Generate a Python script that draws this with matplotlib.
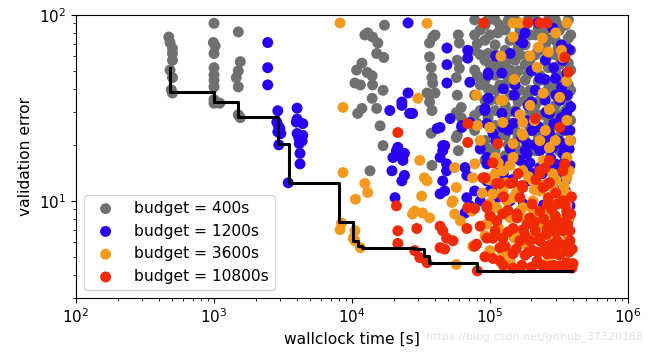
import matplotlib
matplotlib.use("Agg")
import matplotlib.pyplot as plt

# budget = 400s (grey)
gray_t = [470, 480, 500, 500, 500, 480, 500, 490, 500,
          1000, 990, 1020, 1000, 1000, 1000, 1000, 1000, 1000, 1000, 1100,
          1500, 1550, 1500, 1450, 1500, 1500, 1550,
          17200, 13000, 12400, 14100, 15400, 15100, 17000, 11800, 10800, 12900, 14000,
          10500, 11500, 14100, 16800, 14000, 11800, 11000, 15100, 16000, 16800, 13500,
          36500, 38500, 40000, 36500, 37500, 38000, 38500, 35000, 36500, 38000, 40000, 37500, 38000,
          59000, 60000, 58000, 60000, 57000, 58000, 62000, 57000, 62000, 58000, 59000, 57000,
          77500, 77500, 77500, 77500, 77500, 77500, 77500,
          92000, 92000, 92000, 92000, 92000, 92000, 92000,
          109000, 109000, 109000, 109000, 109000, 109000, 109000, 109000,
          129000, 129000, 129000, 129000, 129000, 129000, 129000, 129000,
          152000, 152000, 152000, 152000, 152000, 152000, 152000, 152000,
          180000, 180000, 180000, 180000, 180000, 180000, 180000, 180000,
          213000, 213000, 213000, 213000, 213000, 213000, 213000, 213000,
          252000, 252000, 252000, 252000, 252000, 252000, 252000, 252000,
          298000, 298000, 298000, 298000, 298000, 298000, 298000, 298000,
          353000, 353000, 353000, 353000, 353000, 353000, 353000, 353000,
          385000, 385000, 385000, 385000, 385000, 385000,
          85000, 85000, 85000, 85000,
          100000, 100000, 100000, 100000,
          118000, 118000, 118000, 118000,
          140000, 140000, 140000, 140000,
          165000, 165000, 165000, 165000, 165000,
          195000, 195000, 195000, 195000, 195000,
          230000, 230000, 230000, 230000, 230000,
          270000, 270000, 270000, 270000, 270000,
          320000, 320000, 320000, 320000, 320000, 320000,
          81000, 81000, 81000,
          97000, 97000, 97000, 97000, 97000,
          114000, 114000, 114000, 114000,
          136000, 136000, 136000, 136000, 136000,
          160000, 160000, 160000, 160000, 160000,
          189000, 189000, 189000, 189000, 189000, 189000,
          224000, 224000, 224000, 224000, 224000,
          265000, 265000, 265000, 265000, 265000, 265000,
          312000, 312000, 312000, 312000, 312000, 312000,
          370000, 370000, 370000, 370000, 370000, 370000, 370000]
gray_e = [76, 71, 66, 62, 57, 50.5, 46, 39.5, 38,
          90, 71, 68, 62, 52, 47.5, 44.5, 41, 35, 33.5, 33.5,
          81, 56, 50, 46, 41, 29, 28,
          88, 80, 78, 76, 70.6, 62, 59, 55, 50.5, 49, 47,
          43, 42, 42, 39.3, 35.6, 31.4, 29.5, 31.4, 25.3, 19.8, 14.5,
          70.6, 76, 78, 59.5, 52, 46, 42.9, 38, 34, 30.6, 38, 23.1, 15.5,
          78, 70.6, 57, 51.6, 46, 37, 31.8, 29.8, 28, 22.5, 18.6, 21.9,
          94, 78, 64.5, 50.5, 37, 28.8, 23.9,
          88, 73, 57, 44.5, 34.7, 21.1, 16.5,
          94, 69, 61, 47.4, 39.3, 30.6, 25.4, 18.6,
          83, 64.5, 54, 42, 32.6, 27.1, 22.5, 17.5,
          94, 73, 57, 47.4, 37, 30.6, 23.9, 19.8,
          88, 69, 54, 44.5, 34.7, 27.1, 21.1, 15.5,
          94, 78, 61, 50.5, 39.3, 32.6, 25.4, 18.6,
          83, 69, 57, 44.5, 37, 28.8, 22.5, 16.5,
          94, 73, 61, 50.5, 42, 32.6, 27.1, 19.8,
          88, 69, 57, 47.4, 37, 30.6, 23.9, 17.5,
          78, 64.5, 50.5, 39.3, 27.1, 21.1,
          83, 61, 42, 30.6,
          78, 54, 34.7, 25.4,
          88, 57, 42, 22.5,
          73, 50.5, 37, 25.4,
          83, 61, 39.3, 28.8, 18.6,
          78, 57, 39.3, 30.6, 23.9,
          88, 64.5, 47.4, 34.7, 21.1,
          94, 61, 42, 30.6, 23.9,
          83, 54, 44.5, 34.7, 25.4, 18.6,
          70, 47, 26,
          94, 62, 40, 28, 19,
          80, 52, 35, 22,
          94, 58, 45, 30, 20,
          66, 50, 34, 22, 17,
          94, 60, 48, 37, 26, 19,
          84, 66, 44, 29, 22,
          94, 74, 52, 40, 26, 19,
          88, 67, 47, 38, 29, 22,
          94, 75, 55, 42, 33, 24, 19]

# budget = 1200s (blue)
blue_t = [2450, 2450, 2450, 2900, 2850, 2950, 2900, 2950, 3000, 3050,
          4000, 4000, 3950, 4000, 4100, 4200, 4150, 4200, 4200, 4400, 4400, 4350, 3450,
          25500, 48800, 69000, 69000, 48800, 48800, 71500, 25500, 23000, 18800, 26200, 23000,
          43500, 51500, 62500, 21500, 45500, 22000, 23400, 19500, 24000, 23000, 20500, 21000,
          24000, 19800, 45500, 43500, 48500, 45500, 43500, 48500, 41500, 62500, 71500, 47000,
          66000, 68000, 68000, 71500, 66000, 95000, 103000, 97000, 97000, 92000, 47000, 27500,
          173000, 165000, 285000, 224000, 330000, 337000, 298000, 230000, 361000, 330000,
          252000, 270000, 361000, 189000, 147000, 122000, 124000, 202000, 270000, 240000,
          312000, 349000, 140000, 180000, 122000, 186000, 270000, 298000, 338000, 140000,
          205000, 230000, 165000, 105000, 147000, 186000, 230000, 285000, 338000, 95000,
          118000, 95000, 100000, 112000, 133000, 186000, 260000, 338000, 285000, 307000,
          97000, 97000, 92000, 252000, 152000, 320000, 213000, 380000, 380000, 165000,
          129000, 252000, 195000, 353000, 380000, 85000, 77500, 152000, 230000,
          110000, 125000, 135000, 145000, 155000, 160000, 170000, 175000, 185000, 195000,
          200000, 210000, 215000, 225000, 240000, 245000, 255000, 260000, 275000, 280000,
          290000, 300000, 305000, 315000, 330000, 345000, 355000, 365000, 375000, 385000,
          250000, 200000, 150000, 125000, 110000, 140000, 290000, 375000, 180000, 95000, 85000]
blue_e = [71, 52, 42, 30.5, 26.5, 25, 23.5, 20, 24.5, 23,
          31.5, 27.5, 26.5, 23, 22, 21, 20.3, 18, 15.8, 26, 22.5, 21, 12.5,
          90.5, 66.3, 64.5, 58.5, 54, 43, 43.4, 38, 34, 30.6, 29.5, 32.6,
          24.8, 27.7, 24.8, 19.4, 19.8, 17.5, 16.5, 14.5, 13.7, 12.8, 10.4, 18.6,
          18, 17.1, 18.6, 17.1, 15.8, 12.8, 10.9, 14.5, 24.5, 25.4, 26.4, 19.8,
          15.1, 13.7, 10.4, 9.4, 8.6, 17.1, 11.3, 47.4, 35.6, 31.4, 11.3, 29.5,
          70.6, 73, 85, 90.5, 69, 57, 45.6, 45.6, 48.6, 40.8,
          34.7, 29.5, 29.9, 32.6, 26.1, 29.5, 24.8, 23.9, 23, 20.6,
          20.3, 18.6, 19.1, 18.6, 48.6, 17.9, 14.9, 15.8, 17.9, 10,
          14, 15.1, 16.5, 23, 20.3, 20.3, 18.6, 19.3, 20.3, 15.8,
          15.1, 12.8, 11.3, 10.4, 10.2, 14.5, 15.1, 15.8, 12.4, 11.3,
          48.6, 35.6, 30.6, 57, 42, 34.7, 39.3, 23.9, 15.5, 27.1,
          16.5, 12.1, 12.8, 11.3, 9.4, 10, 11.3, 8.3, 8.8,
          21, 14, 24, 13, 30, 11, 22, 9.6, 27, 16,
          34, 20, 11.5, 25, 14, 9.5, 30, 22, 17, 12,
          26, 37, 14, 21, 28, 24, 13, 37, 19, 32,
          45, 50, 37, 40, 60, 62, 52, 65, 80, 26, 19]

# budget = 3600s (orange)
orange_t = [8200, 8600, 35000, 30000, 80000, 120000, 81000, 100000,
            8600, 12400, 13000, 10600, 8400, 10500, 10500, 11500, 8200, 10200,
            31000, 28500, 32500, 36500, 27500, 32000, 35000, 33500,
            55500, 57000, 54000, 55500, 61000, 57000,
            53000, 74000, 77500, 75000, 109000, 105000, 103000, 75000, 109000,
            147000, 165000, 361000, 147000, 224000, 265000, 330000, 338000, 220000,
            124000, 243000, 195000, 124000, 173000, 361000, 252000, 171000, 147000,
            270000, 230000, 100000, 173000,
            147000, 243000, 361000, 124000, 173000, 361000, 220000, 285000, 361000,
            133000, 205000, 173000, 260000, 361000, 140000, 205000, 320000,
            124000, 165000, 270000, 361000, 133000, 195000, 285000, 380000, 140000, 260000,
            124000, 147000, 165000, 202000, 260000, 361000, 338000, 230000, 205000, 285000,
            124000, 180000, 112000, 85000, 92000, 100000, 298000, 380000,
            88000, 98000, 115000, 130000, 140000, 155000, 190000, 210000, 250000, 275000,
            300000, 330000, 345000, 375000, 150000, 175000, 210000, 240000, 290000, 330000,
            375000, 115000, 100000, 165000, 210000, 270000, 320000, 150000, 300000, 240000,
            195000, 120000, 360000, 95000]
orange_e = [90.5, 31.8, 90, 35.6, 37, 34.7, 25.4, 24.8,
            14.2, 12.4, 11.1, 10.2, 7.6, 6.9, 6.1, 5.6, 7.0, 6.3,
            16.5, 8.8, 8.6, 8.1, 8.5, 10.6, 12.8, 13.3,
            15.1, 11.8, 10, 8.5, 7.8, 4.55,
            9.8, 8.8, 15.8, 13.3, 14.0, 10.9, 8.1, 5.7, 17.1,
            90.5, 90.5, 90.5, 76, 67, 63.1, 64.5, 59, 52.3,
            34.7, 37.9, 32.6, 26.4, 26.4, 27.1, 23.9, 23, 20.3,
            19.3, 21.1, 24.8, 22.5,
            17.1, 16.5, 17.1, 14.5, 14.5, 13.3, 12.4, 11.8, 10.9,
            10, 10, 9.2, 8.8, 9.2, 8.1, 8.1, 7.8,
            6.6, 6.9, 6.6, 6.6, 5.4, 5.6, 5.4, 5.6, 4.75, 4.65,
            11.3, 10.4, 8.8, 9.2, 8.5, 9.6, 11.3, 11.3, 12.8, 14,
            5.2, 8.0, 9.2, 21.1, 6.5, 5.4, 21.1, 21.1,
            11, 13, 16, 12.5, 15.5, 11, 13.5, 11.5, 12.2, 9.8,
            13, 10.2, 12, 14.5, 6.3, 5.9, 6.3, 7.4, 6.1, 7.4,
            8, 7.2, 9.7, 29, 27, 31, 36, 45, 80, 75,
            60, 60, 44, 7.5]

# budget = 10800s (red)
red_t = [90000, 189000, 230000, 260000, 349000, 370000,
         21500, 69000, 69000, 114000, 213000, 320000,
         21000, 21500, 21500, 28500, 29500, 31000, 35000,
         43500, 45500, 48500, 43500, 54000, 47000, 68000, 69000, 77500, 95000,
         112000, 95000, 80000, 105000, 118000, 92000, 81000,
         89000, 112000, 140000, 171000, 165000, 202000, 243000, 265000, 230000, 349000,
         338000, 361000, 380000, 400000, 361000, 260000, 195000, 147000, 147000, 230000,
         285000, 186000, 147000, 157000, 260000, 307000, 220000,
         118000, 147000, 173000, 124000, 157000, 195000, 230000, 307000, 361000, 260000,
         338000, 124000, 165000, 230000, 205000, 285000, 361000, 220000, 393000, 338000,
         270000, 230000, 265000, 92000, 95000,
         320000, 252000, 180000, 129000, 109000, 100000, 85000, 77500, 380000, 298000,
         213000, 180000, 320000, 270000, 118000,
         105000, 125000, 135000, 155000, 170000, 175000, 190000, 200000, 210000, 225000,
         240000, 245000, 255000, 275000, 280000, 290000, 300000, 310000, 330000, 340000,
         350000, 365000, 375000, 385000, 395000, 390000, 300000, 250000, 215000, 160000,
         125000, 105000, 135000, 350000, 270000]
red_e = [90.5, 90.5, 90.5, 90.5, 59, 49.2,
         23.3, 26, 20.6, 20.3, 27.7, 24.8,
         9.4, 6.9, 5.9, 5.4, 7.1, 4.95, 4.65,
         7.3, 6.9, 6.3, 5.6, 6.1, 5.5, 7.1, 9.2, 9.1, 9.2,
         7.8, 6.3, 5.85, 6.3, 5.6, 5.0, 4.2,
         13.3, 12.4, 12.4, 12.1, 10.4, 9.6, 11.8, 12.4, 14.5, 15.8,
         10, 8.8, 6.9, 4.6, 4.65, 5.2, 6.1, 5.2, 4.35, 6.3,
         7.5, 7.5, 7.1, 8.5, 9.6, 6.1, 4.75,
         12.4, 12.5, 11.8, 8.5, 8.1, 8.1, 8.8, 9.6, 8.5, 7.1,
         6.9, 6.3, 6.1, 6.1, 5.4, 5.2, 5.4, 4.6, 4.35, 14.5,
         16.5, 14, 10.4, 13.3, 9.4,
         5.1, 5.7, 5.1, 5.7, 6.9, 8.3, 7.3, 5.7, 6.1, 8.3,
         6.9, 6.5, 4.45, 4.45, 4.75,
         4.9, 4.5, 6.8, 5.5, 4.5, 7, 5.3, 4.4, 7.7, 5.3,
         4.5, 8, 6.6, 5.8, 9, 4.5, 6.8, 5.8, 7.6, 5.8,
         4.5, 7.5, 5.3, 8.5, 5.5, 10.5, 11, 15, 13, 14,
         10.5, 16, 8.9, 9.5, 12.5]

# incumbent trajectory
inc_t = [480, 480, 1000, 1500, 2900, 3500, 8100, 10200, 11000, 11800, 28500, 33000, 36000, 81000, 392000]
inc_e = [51.7, 38.4, 33.8, 28.1, 20.1, 12.5, 7.7, 6.1, 5.75, 5.6, 5.5, 5.05, 4.62, 4.19, 4.19]

labels = ["budget = 400s", "budget = 1200s", "budget = 3600s", "budget = 10800s"]
colors = ["#707070", "#2a00f0", "#f39a1e", "#ef2a05"]

fig = plt.figure(figsize=(6.5, 3.54), dpi=100)
ax = fig.add_axes([0.117, 0.158, 0.849, 0.8])

for t, e, c, lab in zip([gray_t, blue_t, orange_t, red_t], [gray_e, blue_e, orange_e, red_e], colors, labels):
    ax.scatter(t, e, s=62, color=c, edgecolors="none", label=lab)

ax.plot(inc_t, inc_e, color="black", linewidth=2.2, drawstyle="steps-post", zorder=5)

ax.set_xscale("log")
ax.set_yscale("log")
ax.set_xlim(1e2, 1e6)
ax.set_ylim(3, 100)
ax.set_xlabel("wallclock time [s]", fontsize=11.2)
ax.set_ylabel("validation error", fontsize=11.2)
ax.tick_params(labelsize=11)
ax.legend(loc="lower left", fontsize=11.2, labelspacing=0.5, handletextpad=0.8)

# faint watermark, right of the x label
fig.text(0.99, 0.05, "https://blog.csdn.net/github_37320188", fontsize=8,
         color="#e3e3e3", ha="right", va="center", zorder=0)

fig.savefig("out.png", dpi=100)
